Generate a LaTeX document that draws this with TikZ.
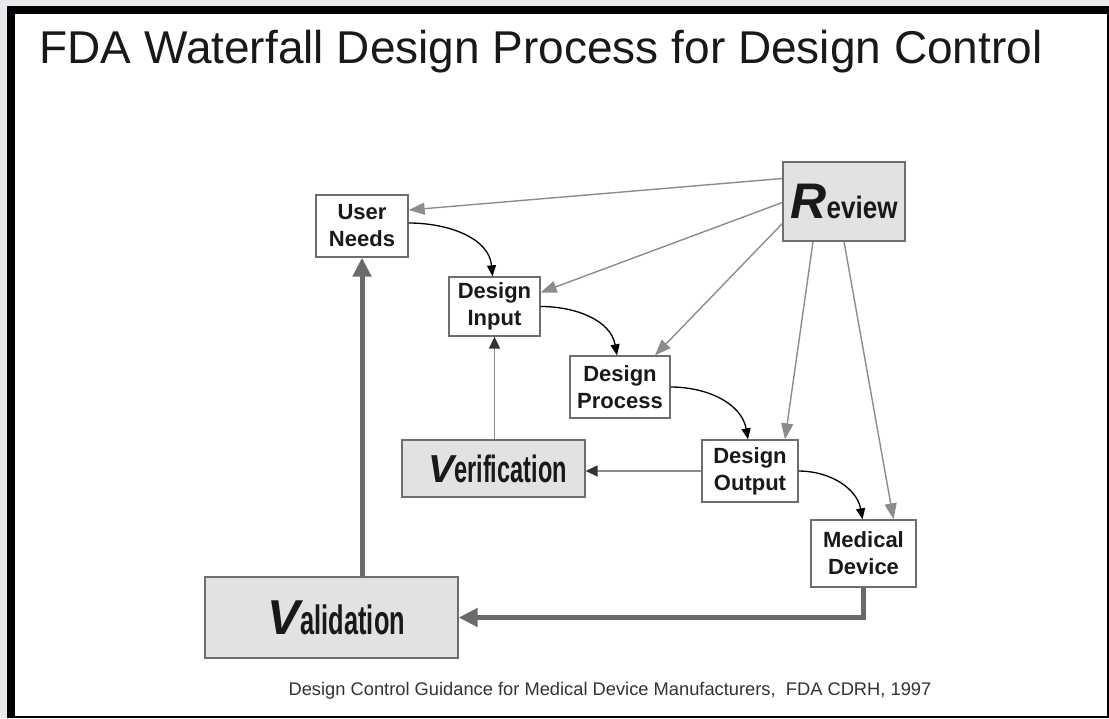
\documentclass[tikz,border=0pt]{standalone}
\usepackage{fontspec}
\setmainfont{Liberation Sans}
\newfontfamily\narrowfont[FakeStretch=0.62]{Liberation Sans}
\newfontfamily\semifont[FakeStretch=0.84]{Liberation Sans}
\usepackage{tikz}
\usetikzlibrary{arrows.meta,positioning}

\definecolor{slidegray}{HTML}{E9EAEE}
\definecolor{boxfill}{HTML}{E2E2E2}
\definecolor{boxline}{HTML}{6E6E6E}
\definecolor{reviewline}{HTML}{8C8C8C}
\definecolor{backline}{HTML}{6A6A6A}

\begin{document}
\begin{tikzpicture}[x=1pt, y=-1pt,
	box/.style={draw=boxline, line width=1.3pt, fill=white, inner sep=0pt, align=center,
		text=black!90, font=\fontsize{22}{27}\selectfont\bfseries},
	keybox/.style={box, fill=boxfill},
	rev/.style={draw=reviewline, line width=1.4pt, -{Triangle[length=16pt,width=12pt]}},
	flow/.style={draw=black, line width=1.3pt, -{Triangle[length=11pt,width=9pt]}},
	check/.style={draw=reviewline, line width=1.4pt, -{Triangle[length=12pt,width=11pt,color=black!80]}},
	back/.style={draw=backline, line width=5pt, -{Triangle[length=19pt,width=18pt]}}]

\useasboundingbox (0,0) rectangle (1109,718);

% ---- slide frame ----
\fill[slidegray] (0,0) rectangle (1109,718);
\fill[black] (7,6) rectangle (1109,718);
\fill[white] (15,14) rectangle (1107,716);

\node[anchor=base west, font=\fontsize{46}{46}\selectfont, text=black!90] (title) at (36,63)
	{FDA Waterfall Design Process for Design Control};

% ---- waterfall stages ----
\node[box, minimum width=92pt, minimum height=62pt] (users) at (362,226) {User\\Needs};
\node[box, minimum width=91pt, minimum height=59pt] (input) at (494.5,306.5) {Design\\Input};
\node[box, minimum width=100pt, minimum height=62pt] (process) at (620,387) {Design\\Process};
\node[box, minimum width=96pt, minimum height=62pt] (output) at (750,471) {Design\\Output};
\node[box, minimum width=105pt, minimum height=67pt] (device) at (863.5,553.5) {Medical\\Device};

% ---- review / verification / validation ----
\node[keybox, minimum width=122pt, minimum height=79pt] (review) at (844,201.5)
	{{\fontsize{50}{50}\selectfont\itshape R}{\semifont\fontsize{31}{31}\selectfont eview}};
\node[keybox, minimum width=183pt, minimum height=57pt] (verif) at (493.5,468.5)
	{\hspace*{8pt}{\fontsize{39}{39}\selectfont\itshape V}{\narrowfont\fontsize{38}{38}\selectfont erification}};
\node[keybox, minimum width=253pt, minimum height=81pt] (valid) at (331.5,617.5)
	{\hspace*{10pt}{\fontsize{49}{49}\selectfont\itshape V}{\narrowfont\fontsize{41}{41}\selectfont alidation}};

% review feeds every stage
\draw[rev] ([yshift=23pt]review.west) -- ([yshift=16pt]users.east);
\draw[rev] ([yshift=-1pt]review.west) -- ([yshift=14pt]input.east);
\draw[rev] ([yshift=-22pt]review.west) -- ([xshift=35pt]process.north);
\draw[rev] ([xshift=-31pt]review.south) -- ([xshift=35pt]output.north);
\draw[rev] (review.south) -- ([xshift=30pt]device.north);

% the waterfall itself
\draw[flow] ([yshift=3pt]users.east) to[out=0,in=95] ([xshift=-2pt]input.north);
\draw[flow] (input.east) to[out=0,in=100] ([xshift=-3pt]process.north);
\draw[flow] (process.east) to[out=0,in=100] ([xshift=-2pt]output.north);
\draw[flow] (output.east) to[out=0,in=100] ([xshift=-1pt]device.north);

% checks back up the chain
\draw[check] (output.west) -- (output.west -| verif.east);
\draw[check] (verif.north -| input.south) -- (input.south);
\draw[back] (device.south) |- (valid.east);
\draw[back] (valid.north -| users.south) -- (users.south);

\node[anchor=base, font=\fontsize{18.3}{18.3}\selectfont, text=black!80] (source) at (610,695)
	{Design Control Guidance for Medical Device Manufacturers,\ \ FDA CDRH, 1997};
\end{tikzpicture}
\end{document}
